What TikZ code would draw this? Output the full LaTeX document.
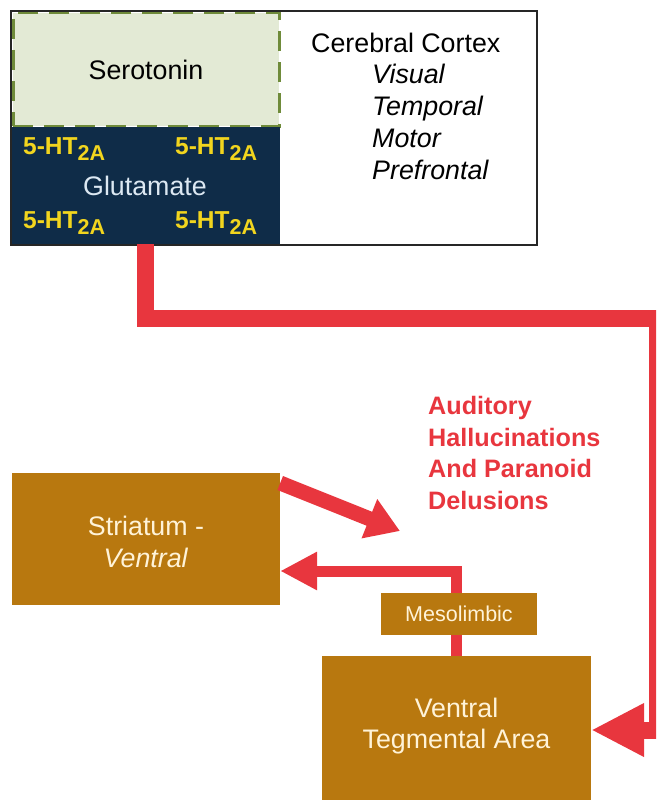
\documentclass[tikz,border=0pt]{standalone}
\usepackage{fontspec}
\setmainfont{Liberation Sans}
\usetikzlibrary{arrows.meta}
\definecolor{redA}{HTML}{E8363E}
\definecolor{brownA}{HTML}{B8780F}
\definecolor{navyA}{HTML}{0F2C48}
\definecolor{sageA}{HTML}{E3EAD5}
\definecolor{oliveA}{HTML}{6F8B3A}
\definecolor{yellowA}{HTML}{F2D51E}
\definecolor{creamA}{HTML}{FFF3D8}
\definecolor{glutA}{HTML}{DCE8F2}
\tikzset{
  bigfont/.style={font=\fontsize{26.8}{31.5}\selectfont},
  plain/.style={bigfont, inner sep=0pt},
  serobox/.style={fill=sageA, draw=oliveA, line width=3pt, dash pattern=on 20pt off 11pt, minimum width=266pt, minimum height=113pt, inner sep=0pt},
  glutbox/.style={fill=navyA, draw=none, minimum width=270pt, minimum height=117pt, inner sep=0pt},
  outerbox/.style={draw=black!85, line width=1.6pt, minimum width=526pt, minimum height=234pt, inner sep=0pt},
  brownbox/.style={fill=brownA, draw=none, inner sep=0pt},
  brtext/.style={bigfont, text=creamA, align=center, inner sep=0pt},
  ht/.style={text=yellowA, font=\fontsize{24.5}{28}\selectfont\bfseries, anchor=base west, inner sep=0pt},
  redthick/.style={draw=redA, line width=17pt, -{Triangle[length=53pt,width=50pt]}},
  redthin/.style={draw=redA, line width=11pt, -{Triangle[length=37pt,width=36pt]}},
  reddiag/.style={draw=redA, line width=15pt, -{Triangle[length=33pt,width=40pt]}},
  redlabel/.style={text=redA, font=\fontsize{25.2}{31.7}\selectfont\bfseries, align=left, inner sep=0pt, anchor=west},
}
\newcommand{\htlabel}{5-HT\raisebox{-6.5pt}{\fontsize{21.5}{23}\selectfont 2A}}
\begin{document}
\begin{tikzpicture}[x=1pt,y=-1pt]
\useasboundingbox (0,0) rectangle (656,800);
\clip (0,0) rectangle (656,800);
% top block
\fill[black!25] (12,12) rectangle (538,246);
\fill[white] (10,10) rectangle (536,244);
\node[serobox, anchor=north west] (sero) at (11.5,11.5) {};
\node[plain] at (sero.center) {Serotonin};
\node[glutbox, anchor=north west] (glu) at (10,127) {};
\node[outerbox, anchor=north west] (outer) at (10,10) {};
\node[plain, text=glutA] (glutxt) at (145,186) {Glutamate};
\node[ht] (h1) at (23,154) {\htlabel};
\node[ht] (h2) at (175,154) {\htlabel};
\node[ht] (h3) at (23,228) {\htlabel};
\node[ht] (h4) at (175,228) {\htlabel};
\node[plain, anchor=west] (cc) at (311,43) {Cerebral Cortex};
\node[plain, anchor=west, align=left, font=\fontsize{26.8}{32}\selectfont\itshape] (areas) at (372,122) {Visual\\Temporal\\Motor\\Prefrontal};
% bottom boxes
\node[brownbox, minimum width=268pt, minimum height=132pt] (str) at (146,539) {};
\node[brtext] at (146,542) {Striatum -\\\textit{Ventral}};
\node[brownbox, minimum width=269pt, minimum height=148pt] (vta) at (456.5,730) {};
\node[brtext] at (456.5,726) {Ventral\\Tegmental Area};
% red label
\node[redlabel] (hallu) at (428,453) {Auditory\\Hallucinations\\And Paranoid\\Delusions};
\coordinate (tipD) at (400,531);
% connectors
\draw[redthick] (glu.south) |- (657.5,318.5) |- (vta.east);
\draw[redthin] (vta.north) |- ([yshift=-32pt]str.east);
\node[brownbox, minimum width=156pt, minimum height=42pt] (meso) at (459,614) {};
\node[plain, text=creamA, font=\fontsize{21.5}{25}\selectfont] at (meso.center) {Mesolimbic};
\draw[reddiag] ([yshift=56pt]str.east) -- (tipD);
\end{tikzpicture}
\end{document}
